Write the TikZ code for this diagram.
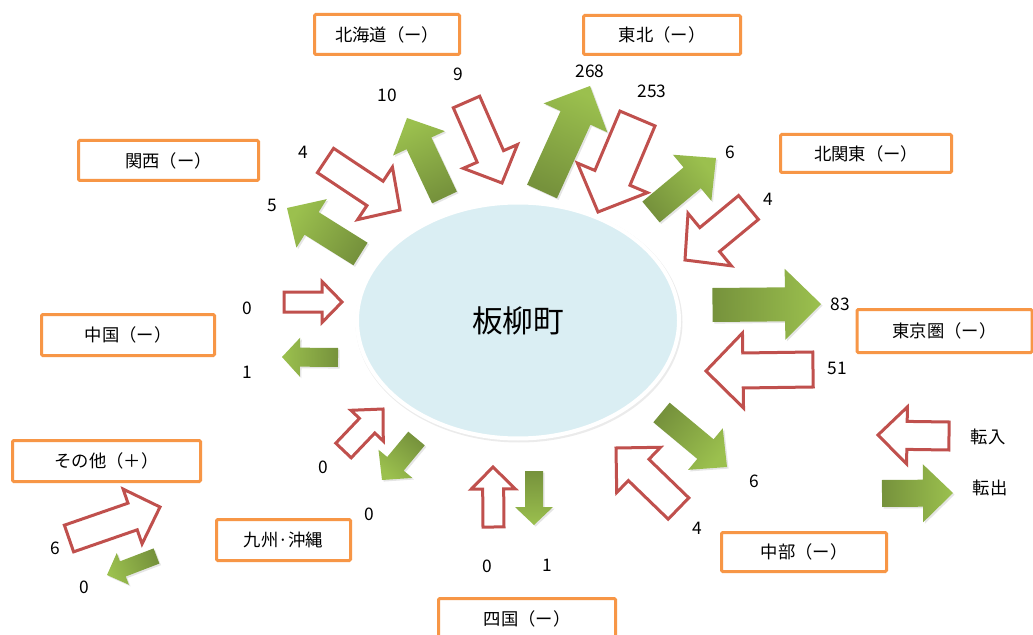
\documentclass[tikz,border=0pt]{standalone}
\usepackage{fontspec}
\setmainfont{Noto Sans CJK JP}
\usetikzlibrary{shadows}
\definecolor{boxorange}{HTML}{F79646}
\definecolor{inred}{HTML}{C0504D}
\definecolor{gdark}{HTML}{76923C}
\definecolor{glight}{HTML}{9BC04E}
\definecolor{townblue}{HTML}{DAEEF3}
\newcommand\flowarrow[8]{%
  \pgfmathsetmacro\fdx{#4-(#2)}%
  \pgfmathsetmacro\fdy{#5-(#3)}%
  \pgfmathsetmacro\fL{veclen(\fdx,\fdy)}%
  \pgfmathsetmacro\fux{\fdx/\fL}%
  \pgfmathsetmacro\fuy{\fdy/\fL}%
  \pgfmathsetmacro\fnx{0-(\fuy)}%
  \pgfmathsetmacro\fny{\fux}%
  \pgfmathsetmacro\fang{atan2(0-(\fdy),\fdx)-90}%
  \pgfmathsetmacro\fbx{#4-#8*(\fux)}%
  \pgfmathsetmacro\fby{#5-#8*(\fuy)}%
  \path[#1=\fang]
    ({#2+#6*(\fnx)},{#3+#6*(\fny)}) --
    ({\fbx+#6*(\fnx)},{\fby+#6*(\fny)}) --
    ({\fbx+#7*(\fnx)},{\fby+#7*(\fny)}) --
    (#4,#5) --
    ({\fbx-#7*(\fnx)},{\fby-#7*(\fny)}) --
    ({\fbx-#6*(\fnx)},{\fby-#6*(\fny)}) --
    ({#2-#6*(\fnx)},{#3-#6*(\fny)}) -- cycle;%
}
\begin{document}
\begin{tikzpicture}[x=0.75pt,y=-0.75pt,
  outflow/.style={top color=glight, bottom color=gdark, shading angle=#1,
    drop shadow={shadow xshift=1.2pt, shadow yshift=-1.2pt, opacity=0.2}},
  inflow/.style={draw=inred, line width=2.25pt, fill=white, miter limit=10},
  region/.style={draw=boxorange, line width=2.25pt, fill=white, rounded corners=1pt,
    inner sep=0pt, font=\fontsize{13}{15}\selectfont},
  num/.style={inner sep=0pt, font=\fontsize{13}{15}\selectfont}]
\useasboundingbox (0,0) rectangle (1033,635);
\fill[white] (0,0) rectangle (1033,635);

% town ellipse
\fill[black, opacity=0.08] (519,322) ellipse [x radius=163.5, y radius=120.5];
\draw[white, line width=3pt, fill=townblue] (518,320.5) ellipse [x radius=161, y radius=118];
\node[inner sep=0pt, font=\fontsize{23}{26}\selectfont] (town) at (518,321) {板柳町};

% outgoing (green) arrows
\flowarrow{outflow}{444.5}{197.5}{407}{118}{13.7}{28.6}{28}
\flowarrow{outflow}{542}{191.5}{590}{86}{16.4}{35}{35}
\flowarrow{outflow}{651}{212}{716}{158}{13.5}{30}{31}
\flowarrow{outflow}{712.5}{305}{821}{304}{17}{35.5}{36}
\flowarrow{outflow}{661.5}{412.5}{727}{467}{12.7}{27}{28}
\flowarrow{outflow}{360.5}{254}{287}{208}{13.3}{28.6}{29}
\flowarrow{outflow}{338}{357.5}{282}{357}{9.5}{19.5}{18}
\flowarrow{outflow}{416.5}{438.5}{382}{480}{10.7}{22}{21}
\flowarrow{outflow}{156.5}{556}{107}{575}{8.1}{17}{17}
\flowarrow{outflow}{534}{471}{534}{525}{9}{19}{18}
\flowarrow{outflow}{882}{493.5}{953}{493}{13.5}{29}{30}

% incoming (hollow) arrows
\flowarrow{inflow}{466.5}{102}{502}{183}{14.4}{29.6}{29}
\flowarrow{inflow}{637.5}{118.5}{598}{212}{19}{38}{37}
\flowarrow{inflow}{748.5}{207.5}{685}{260}{15.5}{34}{32}
\flowarrow{inflow}{813}{369.5}{706}{371}{17.5}{37.5}{37}
\flowarrow{inflow}{678.5}{508.5}{616}{448}{14.8}{31.5}{31.5}
\flowarrow{inflow}{325.5}{160.5}{400}{210}{14.6}{31.5}{30}
\flowarrow{inflow}{284}{302}{342}{302}{10}{20.5}{20}
\flowarrow{inflow}{343.5}{450.5}{383}{409}{10.6}{22.3}{23}
\flowarrow{inflow}{69}{538.5}{160}{507}{14.1}{29}{29}
\flowarrow{inflow}{493.5}{527}{493}{467}{10.5}{22}{22}
\flowarrow{inflow}{949}{436}{878}{435}{14}{28.5}{29}

% region boxes
\node[region, minimum width=145*0.75pt, minimum height=40*0.75pt] (hokkaido) at (387,34.5) {北海道（ー）};
\node[region, minimum width=157*0.75pt, minimum height=39*0.75pt] (tohoku) at (662,35) {東北（ー）};
\node[region, minimum width=180*0.75pt, minimum height=40*0.75pt] (kansai) at (168.5,160.5) {関西（ー）};
\node[region, minimum width=173*0.75pt, minimum height=41*0.75pt] (chugoku) at (128,335) {中国（ー）};
\node[region, minimum width=188*0.75pt, minimum height=41*0.75pt] (sonota) at (106.5,461) {その他（＋）};
\node[region, minimum width=134*0.75pt, minimum height=41*0.75pt] (kyushu) at (283.5,540) {九州·沖縄};
\node[region, minimum width=171*0.75pt, minimum height=38*0.75pt] (kitakanto) at (866,153.5) {北関東（ー）};
\node[region, minimum width=175*0.75pt, minimum height=43*0.75pt] (tokyo) at (944.5,331) {東京圏（ー）};
\node[region, minimum width=165*0.75pt, minimum height=39*0.75pt] (chubu) at (804,552) {中部（ー）};
\node[region, minimum width=177*0.75pt, minimum height=40*0.75pt] (shikoku) at (527,618.5) {四国（ー）};

% numbers
\node[num] (nHkOut) at (387,95) {10};
\node[num] (nHkIn) at (458,74) {9};
\node[num] (nThOut) at (590,71) {268};
\node[num] (nThIn) at (652,91) {253};
\node[num] (nKkOut) at (730,152) {6};
\node[num] (nKkIn) at (768,199) {4};
\node[num] (nTkOut) at (840,304) {83};
\node[num] (nTkIn) at (837,368) {51};
\node[num] (nCbOut) at (754,481) {6};
\node[num] (nCbIn) at (697,528) {4};
\node[num] (nSkOut) at (547,565) {1};
\node[num] (nSkIn) at (487,566) {0};
\node[num] (nKyOut) at (369,514) {0};
\node[num] (nKyIn) at (323,467) {0};
\node[num] (nSoIn) at (55,548) {6};
\node[num] (nSoOut) at (84,587) {0};
\node[num] (nCgOut) at (247,372) {1};
\node[num] (nCgIn) at (247,308) {0};
\node[num] (nKsOut) at (272,205) {5};
\node[num] (nKsIn) at (303,152) {4};

% legend
\node[num] (legIn) at (988,437) {転入};
\node[num] (legOut) at (990,488) {転出};
\end{tikzpicture}
\end{document}
